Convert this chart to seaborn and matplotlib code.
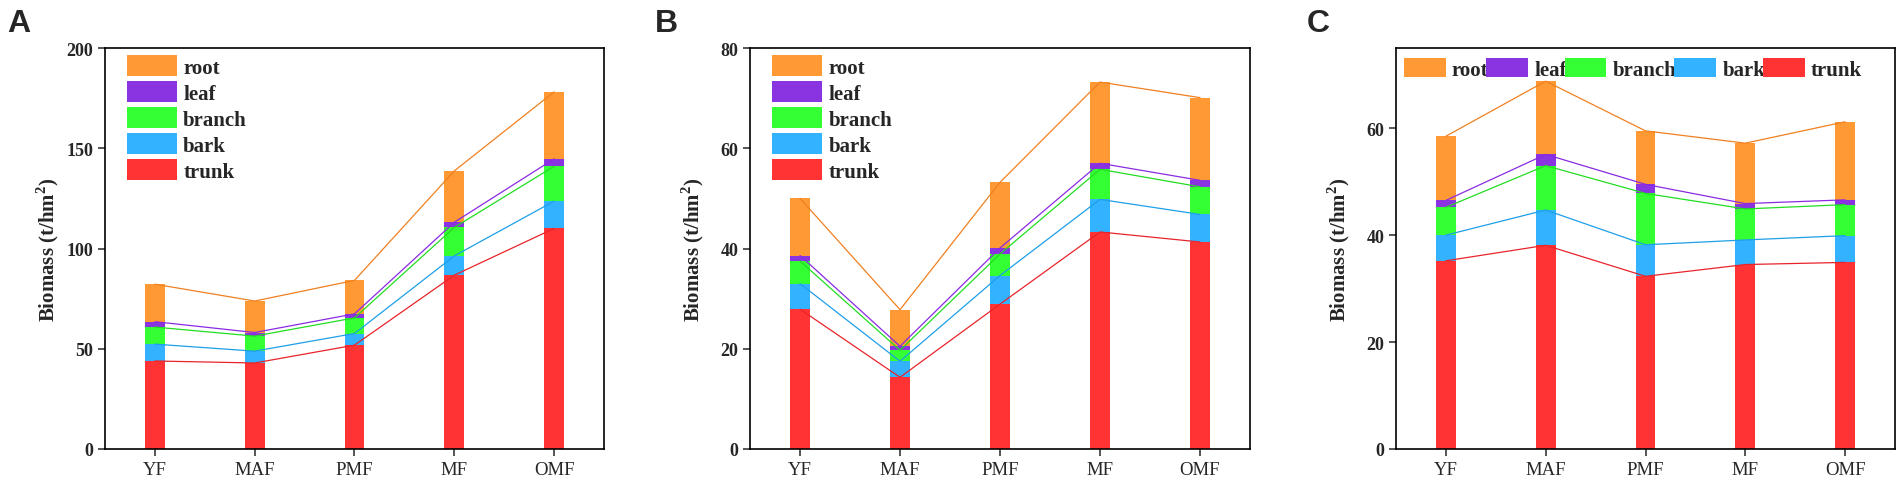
import numpy as np
import pandas as pd
import matplotlib
matplotlib.use('Agg')
import matplotlib.pyplot as plt
import seaborn as sns
from matplotlib.patches import Patch

# forest types on the x axis
stands = ['YF', 'MAF', 'PMF', 'MF', 'OMF']
parts = ['trunk', 'bark', 'branch', 'leaf', 'root']

# panel A (t/hm2), one value per stand
a_trunk = [43.9, 42.9, 51.8, 86.7, 110.0]
a_bark = [8.4, 5.9, 5.8, 9.6, 13.6]
a_branch = [8.5, 7.5, 7.8, 14.2, 17.4]
a_leaf = [2.7, 1.8, 2.0, 2.6, 3.7]
a_root = [18.7, 15.7, 16.7, 25.6, 33.4]

# panel B
b_trunk = [27.9, 14.3, 28.9, 43.3, 41.3]
b_bark = [5.1, 3.2, 5.7, 6.5, 5.5]
b_branch = [4.5, 2.2, 4.3, 6.0, 5.5]
b_leaf = [1.1, 0.8, 1.2, 1.2, 1.3]
b_root = [11.4, 7.3, 13.1, 16.2, 16.5]

# panel C
c_trunk = [35.2, 38.1, 32.3, 34.5, 34.9]
c_bark = [4.8, 6.6, 5.9, 4.6, 5.0]
c_branch = [5.2, 8.3, 9.6, 5.8, 5.8]
c_leaf = [1.3, 2.1, 1.7, 1.0, 0.9]
c_root = [12.0, 13.7, 10.0, 11.3, 14.6]

a_ticks = [0, 50, 100, 150, 200]
b_ticks = [0, 20, 40, 60, 80]
c_ticks = [0, 20, 40, 60]

bar_colors = {'trunk': '#FF3333', 'bark': '#33B2FF', 'branch': '#33FF33',
              'leaf': '#8A33E0', 'root': '#FF9933'}
line_colors = {'trunk': '#E8242A', 'bark': '#1E9FE8', 'branch': '#22DD22',
               'leaf': '#8A2BE2', 'root': '#F08020'}

sns.set_style('ticks')
plt.rcParams['font.family'] = ['Liberation Serif', 'DejaVu Serif']
plt.rcParams['mathtext.fontset'] = 'custom'
plt.rcParams['mathtext.rm'] = 'Liberation Serif'
plt.rcParams['mathtext.bf'] = 'Liberation Serif:bold'
plt.rcParams['axes.linewidth'] = 1.2
plt.rcParams['xtick.major.width'] = 1.1
plt.rcParams['ytick.major.width'] = 1.1
plt.rcParams['xtick.major.size'] = 5
plt.rcParams['ytick.major.size'] = 5

W, H = 1902, 485
fig = plt.figure(figsize=(W / 100, H / 100), dpi=100)


def draw_panel(left, width, letter, letter_x, values, ylim, ticks, horizontal):
    ax = fig.add_axes([left / W, (H - 450) / H, width / W, 401 / H])
    df = pd.DataFrame(values, index=parts).T
    df['stand'] = stands
    cum = df[parts].cumsum(axis=1)

    # stacked look: draw the cumulative totals from the top layer down
    for p in parts[::-1]:
        sns.barplot(x=df['stand'], y=cum[p], order=stands, color=bar_colors[p],
                    width=0.2, saturation=1, errorbar=None, linewidth=0, ax=ax)
    for p in parts:
        sns.lineplot(x=np.arange(len(stands)), y=cum[p].values, color=line_colors[p],
                     linewidth=0.9, ax=ax)

    ax.set_xlim(-0.5, len(stands) - 0.5)
    ax.set_ylim(*ylim)
    ax.set_yticks(ticks)
    ax.set_xticks(range(len(stands)))
    ax.set_xticklabels(stands, fontsize=13.5)
    ax.set_yticklabels([str(t) for t in ticks], fontsize=13, fontweight='bold')
    ax.set_xlabel('')
    ax.set_ylabel(r'Biomass (t/hm$^{\mathbf{2}}$)', fontsize=15, fontweight='bold')
    ax.yaxis.set_label_coords(-0.088, 0.5)
    for s in ax.spines.values():
        s.set_visible(True)
        s.set_color('black')

    handles = [Patch(facecolor=bar_colors[p], edgecolor='none') for p in parts[::-1]]
    labels = parts[::-1]
    if horizontal:
        ax.legend(handles, labels, loc='upper left', bbox_to_anchor=(0.016, 0.974),
                  ncol=5, frameon=False, borderpad=0, borderaxespad=0,
                  handlelength=2.0, handleheight=0.96, handletextpad=0.3,
                  columnspacing=-0.1, prop={'size': 15, 'weight': 'bold'})
    else:
        ax.legend(handles, labels, loc='upper left', bbox_to_anchor=(0.044, 0.983),
                  ncol=1, frameon=False, borderpad=0, borderaxespad=0,
                  handlelength=2.4, handleheight=1.2, handletextpad=0.3,
                  labelspacing=0.16, prop={'size': 15, 'weight': 'bold'})

    fig.text(letter_x / W, 1 - 32 / H, letter, fontsize=23, fontweight='bold',
             family='Liberation Sans', va='baseline', ha='left')
    return ax


draw_panel(105, 499, 'A', 7, [a_trunk, a_bark, a_branch, a_leaf, a_root],
           (0, 200), a_ticks, False)
draw_panel(750, 500, 'B', 655, [b_trunk, b_bark, b_branch, b_leaf, b_root],
           (0, 80), b_ticks, False)
draw_panel(1396, 499, 'C', 1307, [c_trunk, c_bark, c_branch, c_leaf, c_root],
           (0, 75), c_ticks, True)

fig.savefig('out.png', dpi=100)
